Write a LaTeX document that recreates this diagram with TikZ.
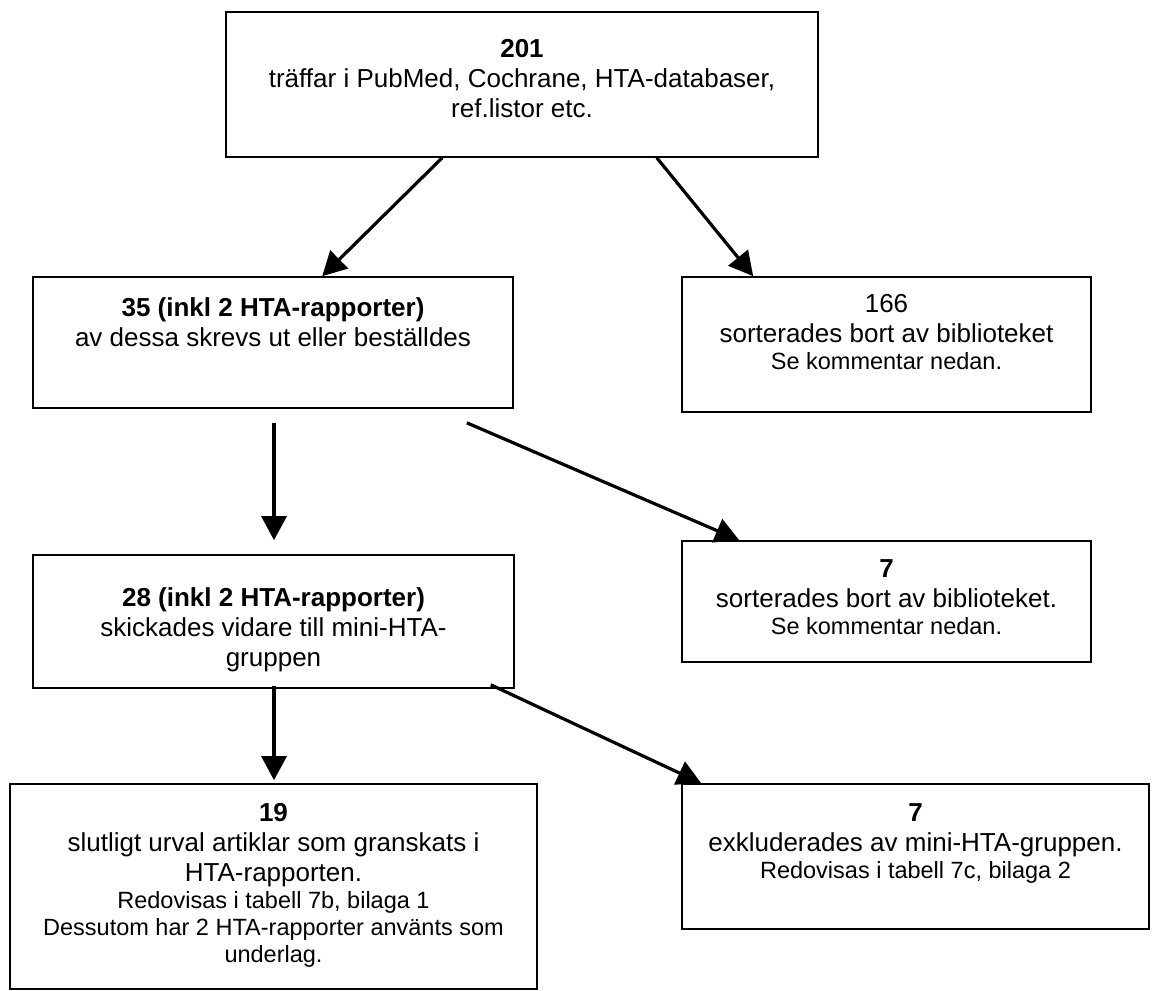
\documentclass[tikz,border=0pt]{standalone}
\usepackage{fontspec}
\setmainfont{Liberation Sans}
\usetikzlibrary{arrows.meta}
% #1 width, #2 height, #3 first baseline offset, #4 content
\newcommand\flowbox[4]{\parbox[c][#2pt][t]{#1pt}{\centering\fontsize{26}{30}\selectfont\rule{0pt}{#3pt}#4\par}}
\newcommand\smalltxt{\par\fontsize{23.5}{27}\selectfont}
\begin{document}
\begin{tikzpicture}[x=1pt,y=-1pt,
  box/.style={draw, line width=1.6pt, inner sep=0pt, rectangle},
  arr/.style={line width=3.2pt, -{Triangle[length=24pt,width=25pt]}}]
\useasboundingbox (0,0) rectangle (1152,991);
\fill[white] (0,0) rectangle (1152,991);

\node[box] (top) at (522,84.5) {\flowbox{592}{145}{45}{\textbf{201}\\träffar i PubMed, Cochrane, HTA-databaser,\\ref.listor etc.}};
\node[box] (n35) at (273,342.5) {\flowbox{480}{131}{39}{\textbf{35 (inkl 2 HTA-rapporter)}\\av dessa skrevs ut eller beställdes}};
\node[box] (s166) at (886.5,344.5) {\flowbox{409}{135}{35}{166\\sorterades bort av biblioteket\smalltxt Se kommentar nedan.}};
\node[box] (n28) at (273.5,621.5) {\flowbox{481}{133}{51}{\textbf{28 (inkl 2 HTA-rapporter)}\\skickades vidare till mini-HTA-\\gruppen}};
\node[box] (m7) at (886.5,601.5) {\flowbox{409}{121}{36}{\textbf{7}\\sorterades bort av biblioteket.\smalltxt Se kommentar nedan.}};
\node[box] (n19) at (273.5,886.5) {\flowbox{527}{205}{37}{\textbf{19}\\slutligt urval artiklar som granskats i\\HTA-rapporten.\smalltxt Redovisas i tabell 7b, bilaga 1\\Dessutom har 2 HTA-rapporter använts som\\underlag.}};
\node[box] (b7) at (915.5,856.5) {\flowbox{467}{145}{37}{\textbf{7}\\exkluderades av mini-HTA-gruppen.\smalltxt Redovisas i tabell 7c, bilaga 2}};

\coordinate (a1s) at ([xshift=217pt]top.south west);
\coordinate (a1e) at ([xshift=290pt]n35.north west);
\coordinate (a2s) at ([xshift=-162pt]top.south east);
\coordinate (a2e) at ([xshift=72pt]s166.north west);
\coordinate (a3s) at ([xshift=1pt,yshift=-14pt]n35.south);
\coordinate (a3e) at ([xshift=0.5pt,yshift=14pt]n28.north);
\coordinate (a4s) at ([xshift=-47pt,yshift=-14pt]n35.south east);
\coordinate (a4e) at ([xshift=58pt]m7.north west);
\coordinate (a5s) at ([xshift=0.5pt,yshift=3pt]n28.south);
\coordinate (a5e) at ([xshift=0.5pt,yshift=3pt]n19.north);
\coordinate (a6s) at ([xshift=-24pt,yshift=4pt]n28.south east);
\coordinate (a6e) at ([xshift=20pt]b7.north west);

\draw[arr] (a1s) -- (a1e);
\draw[arr] (a2s) -- (a2e);
\draw[arr] (a3s) -- (a3e);
\draw[arr] (a4s) -- (a4e);
\draw[arr] (a5s) -- (a5e);
\draw[arr] (a6s) -- (a6e);
\end{tikzpicture}
\end{document}
